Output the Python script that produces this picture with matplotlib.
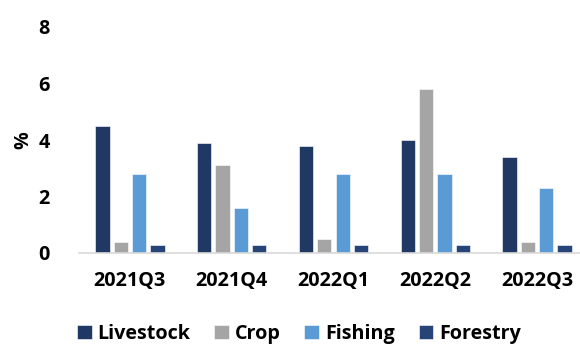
import matplotlib
matplotlib.use("Agg")
import matplotlib.pyplot as plt
import numpy as np

quarters = ["2021Q3", "2021Q4", "2022Q1", "2022Q2", "2022Q3"]
livestock = [4.5, 3.9, 3.8, 4.0, 3.4]
crop = [0.4, 3.1, 0.5, 5.8, 0.4]
fishing = [2.8, 1.6, 2.8, 2.8, 2.3]
forestry = [0.3, 0.3, 0.3, 0.3, 0.3]
series_names = ["Livestock", "Crop", "Fishing", "Forestry"]
colors = ["#203864", "#A5A5A5", "#5B9BD5", "#264478"]
yticks = [0, 2, 4, 6, 8]

plt.rcParams['font.family'] = ['Open Sans', 'DejaVu Sans']
plt.rcParams['font.weight'] = 'bold'
FS = 14.2

fig = plt.figure(figsize=(5.8, 3.46), dpi=100)
ax = fig.add_axes([79/580, 1 - 253/346, 1 - 79/580, (253 - 27)/346])

x = np.arange(len(quarters))
slot = 0.18
width = 0.14
data = [livestock, crop, fishing, forestry]
for i, (vals, name, c) in enumerate(zip(data, series_names, colors)):
    ax.bar(x + (i - 1.5) * slot, vals, width=width, color=c, label=name,
           edgecolor='white', linewidth=0.4, zorder=2)

ax.set_ylim(0, 8)
ax.set_xlim(-0.5, 4.5 - 8/101.75)
ax.set_yticks(yticks)
ax.set_yticklabels([str(t) for t in yticks], fontsize=FS, fontweight='bold')
ax.set_xticks(x)
ax.set_xticklabels(quarters, fontsize=FS, fontweight='bold')
ax.tick_params(axis='y', length=0, pad=21)
ax.tick_params(axis='x', length=0, pad=13)
for s in ['top', 'right', 'left']:
    ax.spines[s].set_visible(False)
ax.spines['bottom'].set_color('#D9D9D9')
ax.spines['bottom'].set_linewidth(1.2)
ax.set_ylabel('%', fontsize=FS, fontweight='bold', labelpad=4)

fig.legend(loc='center', bbox_to_anchor=(299/580, 1 - 334/346), ncol=4,
           frameon=False, prop={'size': FS, 'weight': 'bold'},
           handlelength=0.75, handleheight=0.75, handletextpad=0.3,
           columnspacing=1.2, borderpad=0.1)

fig.savefig('out.png', dpi=100)
